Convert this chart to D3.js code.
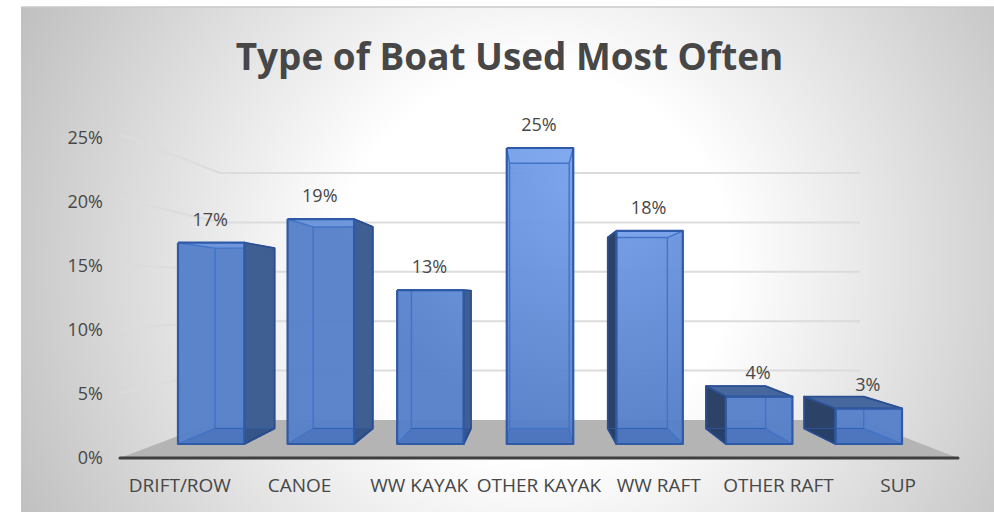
<!DOCTYPE html>
<html>
<head>
<meta charset="utf-8">
<script src="https://cdn.jsdelivr.net/npm/d3@7"></script>
<style>
  html, body { margin: 0; padding: 0; background: #fff; }
  svg { display: block; }
  text { font-family: "Open Sans", sans-serif; fill: #474747; }
</style>
</head>
<body>
<svg></svg>
<script>
var width = 994,
    height = 512;

var categories = ["DRIFT/ROW", "CANOE", "WW KAYAK", "OTHER KAYAK", "WW RAFT", "OTHER RAFT", "SUP"];
var values = [17, 19, 13, 25, 18, 4, 3];
var yTicks = [0, 5, 10, 15, 20, 25];
var titleText = "Type of Boat Used Most Often";

var svg = d3.select("svg").attr("width", width).attr("height", height);
var defs = svg.append("defs");

var bg = defs.append("radialGradient").attr("id", "bg")
    .attr("gradientUnits", "userSpaceOnUse")
    .attr("cx", 535).attr("cy", 265).attr("r", 590);
bg.append("stop").attr("offset", "0.33").attr("stop-color", "#ffffff");
bg.append("stop").attr("offset", "1").attr("stop-color", "#bdbdbd");

// front faces get lighter towards the top middle of the chart
var face = defs.append("radialGradient").attr("id", "face")
    .attr("gradientUnits", "userSpaceOnUse")
    .attr("cx", 590).attr("cy", 170).attr("r", 300);
face.append("stop").attr("offset", "0").attr("stop-color", "#78a3ee");
face.append("stop").attr("offset", "0.85").attr("stop-color", "#5680ca");
face.append("stop").attr("offset", "1").attr("stop-color", "#5680ca");

svg.append("rect").attr("x", 21).attr("y", 7)
    .attr("width", width - 21).attr("height", height - 7)
    .attr("fill", "url(#bg)");
svg.append("line").attr("x1", 21).attr("x2", width).attr("y1", 7).attr("y2", 7)
    .attr("stroke", "#c8c8c8").attr("stroke-width", 1.5);

// scales: front edge of the floor, back wall, side wall, plane of the bars
var xAxisScale = d3.scaleBand().domain(categories).range([120, 958]);
var xWall = d3.scaleLinear().domain([0, 1]).range([220, 860]);
var yWall = d3.scaleLinear().domain([0, 25]).range([420, 173]);
var ySide = d3.scaleLinear().domain([0, 25]).range([458, 134]);
var xBar = d3.scaleBand().domain(categories).range([156.5, 923.5]).paddingInner(0.393).paddingOuter(0.196);
var yBar = d3.scaleLinear().domain([0, 25]).range([444, 148]);

// bars run back towards one vanishing point
var vanish = [534, 295],
    backScale = 0.896;
var back = function(p) {
  return [vanish[0] + backScale * (p[0] - vanish[0]), vanish[1] + backScale * (p[1] - vanish[1])];
};

// floor
svg.append("polygon")
    .attr("points", [[xAxisScale.range()[0], ySide(0)], [xWall(0), yWall(0)], [xWall(1), yWall(0)], [xAxisScale.range()[1], ySide(0)]].join(" "))
    .attr("fill", "#b4b4b4");

// gridlines
var grid = svg.append("g").attr("fill", "none").attr("stroke", "#dcdcdc").attr("stroke-width", 2);
grid.selectAll("path").data(yTicks.filter(function(d) { return d > 0; })).enter().append("path")
    .attr("d", function(d) {
      return d3.line()([[xAxisScale.range()[0], ySide(d)], [xWall(0), yWall(d)], [xWall(1), yWall(d)]]);
    });

// axis line
svg.append("line")
    .attr("x1", xAxisScale.range()[0]).attr("x2", xAxisScale.range()[1])
    .attr("y1", ySide(0)).attr("y2", ySide(0))
    .attr("stroke", "#3f3f3f").attr("stroke-width", 3).attr("stroke-linecap", "round");

// bars
var bars = svg.append("g").selectAll("g").data(categories).enter().append("g");

bars.each(function(cat, i) {
  var g = d3.select(this);
  var x0 = xBar(cat),
      x1 = x0 + xBar.bandwidth(),
      y0 = yBar(0),
      y1 = yBar(values[i]);
  var fa = [x0, y1], fb = [x1, y1], fc = [x1, y0], fd = [x0, y0];
  var ba = back(fa), bb = back(fb), bc = back(fc), bd = back(fd);
  var rightSide = x1 < vanish[0];
  var leftSide = x0 > vanish[0];
  var topVisible = y1 > vanish[1];

  // front face, nearly solid
  g.append("polygon")
      .attr("points", [fa, fb, fc, fd].join(" "))
      .attr("fill", "url(#face)").attr("fill-opacity", 0.96);

  // floor of the box seen through the front
  g.append("polygon")
      .attr("points", [fd, fc, bc, bd].join(" "))
      .attr("fill", "#3d68b4").attr("fill-opacity", 0.45);

  // ceiling seen from below, only where it stays inside the front
  if (!topVisible) {
    g.append("polygon")
        .attr("points", [fa, fb, bb, ba].join(" "))
        .attr("fill", "#8ab2f5").attr("fill-opacity", 0.4);
  }

  // inner edges
  var inner = [[ba, bb], [bb, bc], [bc, bd], [bd, ba], [fc, bc], [fd, bd], [fa, ba], [fb, bb]];
  inner.forEach(function(e) {
    g.append("path").attr("d", d3.line()(e))
        .attr("fill", "none").attr("stroke", "#4273c6").attr("stroke-width", 1.4);
  });

  // outside faces, darker, over the inner parts
  var outer = [];
  if (rightSide) outer.push({ pts: [fb, bb, bc, fc], fill: "#3f5f92" });
  if (leftSide) outer.push({ pts: [fa, ba, bd, fd], fill: "#2c4266" });
  if (topVisible) outer.push({ pts: [fa, ba, bb, fb], fill: "#46689f" });
  outer.forEach(function(o) {
    g.append("polygon").attr("points", o.pts.join(" "))
        .attr("fill", o.fill)
        .attr("stroke", "#2c4f92").attr("stroke-width", 1.8).attr("stroke-linejoin", "round");
  });

  // box floor showing through the side face, with its back edge
  var sideBase = null;
  if (rightSide) sideBase = [fc, bc, [fc[0], bc[1]]];
  if (leftSide) sideBase = [fd, bd, [fd[0], bd[1]]];
  if (sideBase) {
    g.append("polygon").attr("points", sideBase.join(" "))
        .attr("fill", "#1f3a6e").attr("fill-opacity", 0.3);
    g.append("path").attr("d", d3.line()([bd, bc]))
        .attr("fill", "none").attr("stroke", "#2f5aa6").attr("stroke-width", 1.2).attr("stroke-opacity", 0.7);
  }

  // dark outline
  g.append("path").attr("d", d3.line()([fa, fb, fc, fd, fa]))
      .attr("fill", "none").attr("stroke", "#2f5aa6").attr("stroke-width", 2.2).attr("stroke-linejoin", "round");
});

// value labels
svg.append("g").selectAll("text").data(categories).enter().append("text")
    .attr("x", function(d) { return xBar(d) + xBar.bandwidth() / 2 - 1; })
    .attr("y", function(d, i) { return yBar(values[i]) - 23.5; })
    .attr("dy", "0.35em")
    .attr("text-anchor", "middle")
    .style("font-size", "18px")
    .text(function(d, i) { return values[i] + "%"; });

// axes, labels only
var yAxisG = svg.append("g")
    .attr("transform", "translate(103,1)")
    .call(d3.axisLeft(ySide.copy().range([457, 137])).tickValues(yTicks).tickSize(0).tickPadding(0)
      .tickFormat(function(d) { return d + "%"; }));
var xAxisG = svg.append("g")
    .attr("transform", "translate(0," + 485 + ")")
    .call(d3.axisBottom(xAxisScale).tickSize(0).tickPadding(0));
yAxisG.select(".domain").remove();
xAxisG.select(".domain").remove();
yAxisG.selectAll("text").style("font-size", "18px").style("font-family", "\"Open Sans\", sans-serif");
xAxisG.selectAll("text").attr("y", 0).attr("dy", "0.35em").style("font-size", "19px").style("font-family", "\"Open Sans\", sans-serif");

// title
svg.append("text")
    .attr("x", 509.5).attr("y", 70)
    .attr("text-anchor", "middle")
    .style("font-size", "36.9px").style("font-weight", "700")
    .text(titleText);
</script>
</body>
</html>
